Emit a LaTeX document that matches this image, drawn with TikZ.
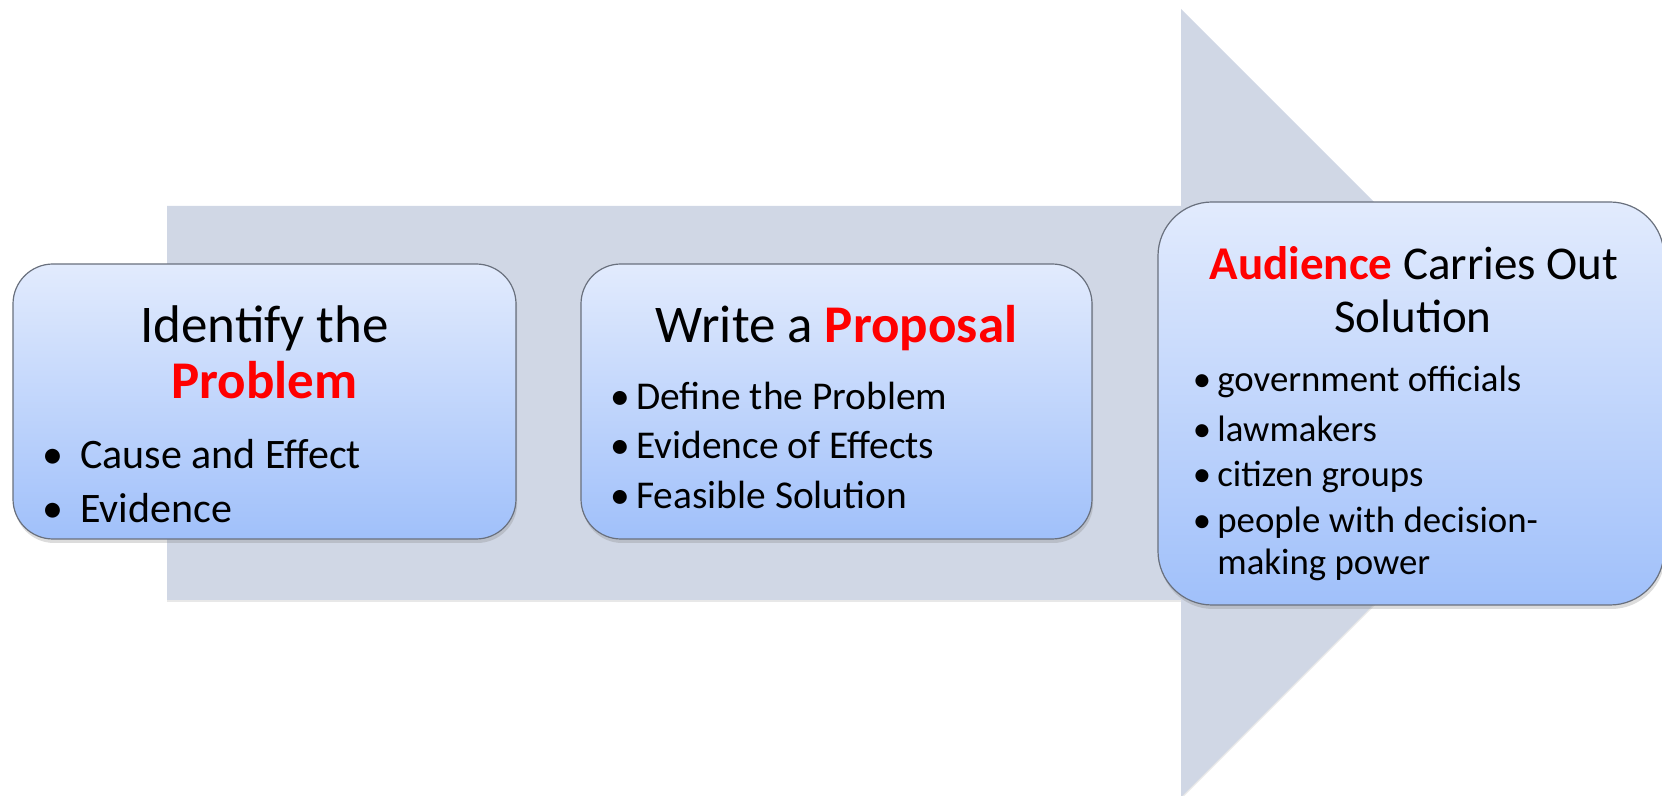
\documentclass[tikz,border=0pt]{standalone}
\usepackage{fontspec}
\setmainfont{Carlito}
\usetikzlibrary{shadows}
\definecolor{arrowfill}{RGB}{208,215,229}
\definecolor{boxtop}{RGB}{226,235,253}
\definecolor{boxbot}{RGB}{160,192,250}
\definecolor{boxedge}{RGB}{105,112,125}
\definecolor{hired}{RGB}{255,0,0}
\newcommand{\bul}[1]{\makebox[#1][l]{\textbullet}}
\begin{document}
\begin{tikzpicture}[x=0.5pt,y=-0.5pt,
  panel/.style={draw=boxedge, line width=0.6pt, top color=boxtop, bottom color=boxbot,
    inner sep=0pt, drop shadow={shadow xshift=0.6pt, shadow yshift=-2pt, opacity=0.28}},
  titletxt/.style={inner sep=0pt, anchor=base, font=\fontsize{26.5}{32}\selectfont},
  titlethree/.style={inner sep=0pt, anchor=base, font=\fontsize{23.5}{28}\selectfont},
  itemone/.style={inner sep=0pt, anchor=base west, font=\fontsize{21}{25}\selectfont},
  itemtwo/.style={inner sep=0pt, anchor=base west, font=\fontsize{19.7}{24}\selectfont},
  itemthree/.style={inner sep=0pt, anchor=base west, font=\fontsize{18.4}{22}\selectfont},
  redword/.style={}]
\useasboundingbox (0,0) rectangle (1662,796);
% big background arrow
\fill[arrowfill, drop shadow={shadow xshift=0pt, shadow yshift=-1pt, opacity=0.18}]
  (167,206) -- (1181,206) -- (1181,9) -- (1575,403) -- (1181,797) -- (1181,600) -- (167,600) -- cycle;
% panels
\node[panel, rounded corners=20pt, minimum width=251.5pt, minimum height=137.5pt] (box1) at (264.5,401.5) {};
\node[panel, rounded corners=20pt, minimum width=255.5pt, minimum height=137.5pt] (box2) at (836.5,401.5) {};
\node[panel, rounded corners=27pt, minimum width=253pt, minimum height=201.5pt] (box3) at (1411,403.5) {};
% box 1 text
\node[titletxt] (t1a) at (264.5,343) {Identify the};
\node[titletxt] (t1b) at (264.5,399) {\textcolor{hired}{\bfseries Problem}};
\node[itemone] (b1a) at (42.5,469) {\bul{18.75pt}Cause and Effect};
\node[itemone] (b1b) at (42.5,523) {\bul{18.75pt}Evidence};
% box 2 text
\node[titletxt] (t2) at (836.5,343) {Write a \textcolor{hired}{\bfseries Proposal}};
\node[itemtwo] (b2a) at (610,410) {\bul{13pt}Define the Problem};
\node[itemtwo] (b2b) at (610,459) {\bul{13pt}Evidence of Effects};
\node[itemtwo] (b2c) at (610,509) {\bul{13pt}Feasible Solution};
% box 3 text
\node[titlethree] (t3a) at (1414,280) {\textcolor{hired}{\bfseries Audience} Carries Out};
\node[titlethree] (t3b) at (1413,333) {Solution};
\node[itemthree] (b3a) at (1192.5,392) {\bul{12.25pt}government officials};
\node[itemthree] (b3b) at (1192.5,442) {\bul{12.25pt}lawmakers};
\node[itemthree] (b3c) at (1192.5,487) {\bul{12.25pt}citizen groups};
\node[itemthree] (b3d) at (1192.5,533) {\bul{12.25pt}people with decision-};
\node[itemthree] (b3e) at (1217,575) {making power};
\end{tikzpicture}
\end{document}
